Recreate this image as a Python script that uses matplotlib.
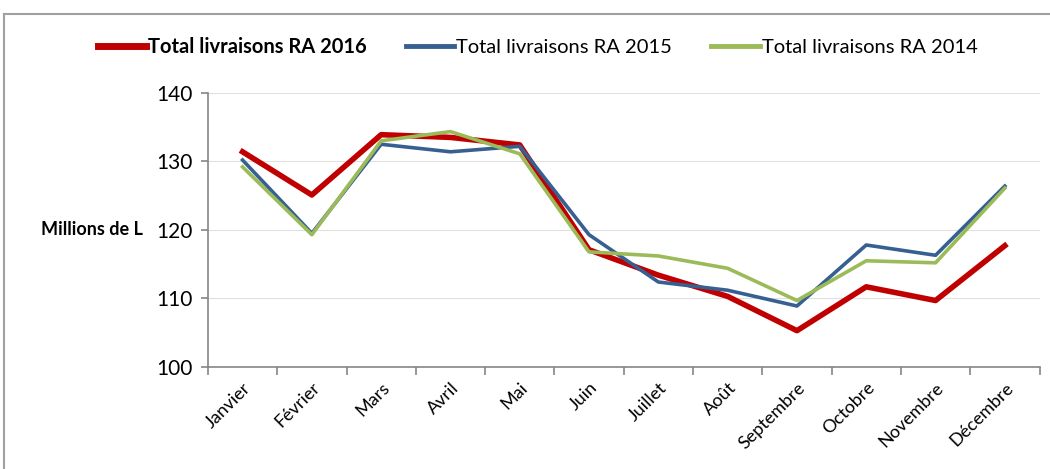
import numpy as np
import matplotlib.pyplot as plt
from matplotlib.lines import Line2D

plt.rcParams['font.family'] = ['Lato', 'DejaVu Sans']

mois = ['Janvier', 'Février', 'Mars', 'Avril', 'Mai', 'Juin', 'Juillet',
        'Août', 'Septembre', 'Octobre', 'Novembre', 'Décembre']
ra2016 = [131.4, 125.1, 133.9, 133.5, 132.4, 117.1, 113.4, 110.3, 105.3, 111.7, 109.7, 117.7]
ra2015 = [130.2, 119.5, 132.5, 131.4, 132.2, 119.3, 112.4, 111.2, 108.9, 117.8, 116.3, 126.4]
ra2014 = [129.2, 119.3, 133.0, 134.35, 131.1, 116.8, 116.2, 114.4, 109.7, 115.5, 115.2, 126.1]

fig = plt.figure(figsize=(10.5, 4.69), dpi=100)
ax = fig.add_axes([0.198, 0.2175, 0.792, 0.5845])

x = np.arange(len(mois))
ax.plot(x, ra2016, color='#c00000', lw=4, label='Total livraisons RA 2016', zorder=3)
ax.plot(x, ra2015, color='#376092', lw=2.6, label='Total livraisons RA 2015', zorder=4)
ax.plot(x, ra2014, color='#9bbb59', lw=2.6, label='Total livraisons RA 2014', zorder=5)

ax.set_xlim(-0.5, 11.5)
ax.set_ylim(100, 140)
ax.set_yticks([100, 110, 120, 130, 140])
ax.yaxis.grid(True, color='#e0e0e0', lw=0.8)
ax.set_axisbelow(True)
for s in ['top', 'right']:
    ax.spines[s].set_visible(False)
for s in ['left', 'bottom']:
    ax.spines[s].set_color('#868686')
    ax.spines[s].set_linewidth(1.2)

ax.set_xticks(x)
ax.set_xticklabels(mois, rotation=45, ha='right', rotation_mode='anchor', fontsize=13)
ax.tick_params(axis='x', which='major', length=0, pad=9)
ax.set_xticks(np.arange(-0.5, 12, 1), minor=True)
ax.tick_params(axis='x', which='minor', length=6, color='#868686', width=1.2)
ax.tick_params(axis='y', length=5, color='#868686', width=1.2, labelsize=15, pad=6)

ax.set_ylabel('Millions de L', rotation=0, fontweight='bold', fontsize=13, labelpad=0)
ax.yaxis.set_label_coords(-0.139, 0.5)
ax.yaxis.label.set_ha('center')
ax.yaxis.label.set_va('center')

leg = fig.legend(loc='center', bbox_to_anchor=(0.512, 0.9), ncol=3, frameon=False,
                 fontsize=14.5, handlelength=2.4, columnspacing=1.95, handletextpad=0.1)
leg.get_texts()[0].set_fontweight('bold')
for h, w in zip(leg.get_lines(), [5, 3.5, 3.5]):
    h.set_linewidth(w)

# outer chart border
fig.add_artist(Line2D([4 / 1050, 1], [1 - 14 / 469, 1 - 14 / 469], color='#a0a0a0', lw=1.5,
                      transform=fig.transFigure))
fig.add_artist(Line2D([4 / 1050, 4 / 1050], [0, 1 - 14 / 469], color='#a0a0a0', lw=1.5,
                      transform=fig.transFigure))

fig.savefig('out.png', dpi=100)
